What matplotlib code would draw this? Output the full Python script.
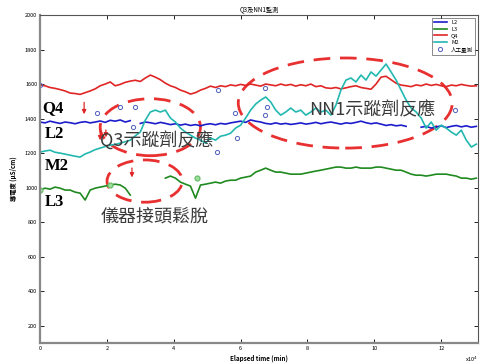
import numpy as np
import matplotlib
matplotlib.use("Agg")
import matplotlib.pyplot as plt
from matplotlib.patches import Ellipse

plt.rcParams['font.family'] = ['Noto Sans CJK TC', 'DejaVu Sans']

# ---- data (time in 10^4 min, conductivity) ----
n_pts = 88
time = np.linspace(0, 0.15 * (n_pts - 1), n_pts)

q4 = [1594, 1590, 1580,
      1575, 1568, 1560, 1548,
      1545, 1540, 1550, 1560,
      1572, 1590, 1600, 1612,
      1590, 1598, 1610, 1617,
      1622, 1615, 1635, 1652,
      1640, 1625, 1605, 1590,
      1580, 1565, 1555, 1542,
      1550, 1565, 1575, 1588,
      1580, 1590, 1585, 1595,
      1590, 1598, 1592, 1600,
      1594, 1588, 1600, 1595,
      1590, 1600, 1592, 1598,
      1588, 1596, 1590, 1600,
      1585, 1590, 1578, 1575,
      1580, 1572, 1578, 1585,
      1590, 1580, 1575, 1570,
      1600, 1640, 1645, 1625,
      1605, 1594, 1590, 1585,
      1595, 1590, 1600, 1592,
      1598, 1590, 1585, 1594,
      1590, 1598, 1592, 1588,
      1590]

l2 = [1380, 1375, 1385,
      1378, 1372, 1380, 1376,
      1370, 1378, 1382, 1375,
      1380, 1386, 1378, 1390,
      1385, 1392, 1380, 1388,
      np.nan, 1372, 1380, 1376,
      1370, 1378, 1372, 1365,
      1370, 1362, 1368, 1360,
      1365, 1358, 1366, 1370,
      1364, 1372, 1368, 1375,
      1380, 1385, 1378, 1392,
      1385, 1380, 1372, 1368,
      1375, 1368, 1372, 1366,
      1370, 1375, 1368, 1372,
      1378, 1370, 1376, 1380,
      1374, 1368, 1375, 1372,
      1378, 1385, 1376, 1370,
      1375, 1368, 1360, 1365,
      1358, 1362, 1355, np.nan,
      np.nan, 1350, 1355, 1345,
      1352, 1358, 1348, 1355,
      1360, 1352, 1358, 1350,
      1355]

m2 = [1206, 1212, 1217, 1205, 1200, 1194, 1188, 1182, 1177, 1195,
      1206, 1220, 1229, 1238, 1246, 1250, 1258, 1266, 1275, 1300,
      1322, 1391, 1438, 1449, 1438, 1449, 1403, 1380, 1345, 1322,
      1304, 1287, 1275, 1258, 1287, 1275, 1298, 1304, 1315, 1345,
      1362, 1403, 1449, 1484, 1507, 1525, 1496, 1449, 1420, 1438,
      1461, 1438, 1449, 1420, 1438, 1461, 1438, 1449, 1420, 1478,
      1565, 1623, 1635, 1612, 1652, 1623, 1670, 1646, 1681, 1716,
      1670, 1623, 1565, 1507, 1461, 1438, 1403, 1345, 1380, 1333,
      1362, 1345, 1322, 1304, 1333, 1275, 1235, 1252]

l3 = [986, 997, 991, 1003, 997, 986, 986, 974, 968, 928,
      986, 997, 1003, 1009, 1015, 1020, 1015, 997, 957, np.nan,
      np.nan, np.nan, np.nan, np.nan, np.nan, 1055, 1067, 1055, 1032, 1020,
      1009, 939, 1015, 1020, 1026, 1032, 1026, 1038, 1043, 1043,
      1055, 1061, 1067, 1090, 1101, 1113, 1101, 1090, 1090, 1084,
      1078, 1078, 1078, 1084, 1090, 1096, 1101, 1107, 1113, 1119,
      1119, 1113, 1113, 1119, 1113, 1113, 1113, 1119, 1119, 1113,
      1107, 1101, 1101, 1090, 1078, 1072, 1072, 1067, 1072, 1078,
      1078, 1078, 1072, 1067, 1055, 1055, 1049, 1055]

manual_t = [0.0, 1.71, 2.39, 2.84, 2.78, 5.30, 5.33, 5.89, 5.83, 6.79, 6.73, 6.73, 12.42]
manual_v = [1594, 1432, 1467, 1467, 1351, 1206, 1565, 1287, 1432, 1467, 1577, 1420, 1449]

l3_manual_t = [0.0, 2.1, 4.7]
l3_manual_v = [986, 1015, 1055]

series_names = ['L2', 'L3', 'Q4', 'M2']
manual_name = '人工量測'

# ---- figure ----
W, H = 481, 363
fig = plt.figure(figsize=(W / 100, H / 100), dpi=100)
ax = fig.add_axes([40 / W, 1 - 343 / H, 438 / W, 328 / H])

c_l2, c_l3, c_q4, c_m2 = '#1c1ccc', '#1f8a1f', '#e02525', '#22b8b0'
ax.plot(time, l2, color=c_l2, lw=1.2, label=series_names[0])
ax.plot(time, l3, color=c_l3, lw=1.2, label=series_names[1])
ax.plot(time, q4, color=c_q4, lw=1.2, label=series_names[2])
ax.plot(time, m2, color=c_m2, lw=1.2, label=series_names[3])
ax.plot(manual_t, manual_v, 'o', mfc='none', mec='#5060c0', ms=3, mew=0.7,
        label=manual_name, ls='none')
ax.plot(l3_manual_t, l3_manual_v, 'o', mfc='#9be09b', mec='#70c070', ms=3.5, ls='none')

ax.set_xlim(0, 13.1)
ax.set_ylim(100, 2000)
ax.set_xticks([0, 2, 4, 6, 8, 10, 12])
ax.set_yticks([200, 400, 600, 800, 1000, 1200, 1400, 1600, 1800, 2000])
ax.tick_params(direction='in', length=3, width=0.6, labelsize=4,
               top=True, right=True, pad=2)
for s in ax.spines.values():
    s.set_linewidth(0.8)
    s.set_color('#555555')
ax.spines['left'].set_linewidth(1.6)
ax.spines['left'].set_color('#888888')
ax.spines['bottom'].set_linewidth(1.6)
ax.spines['bottom'].set_color('#888888')

ax.set_title('Q3及NN1監測', fontsize=4.5, pad=3)
ax.set_xlabel('Elapsed time (min)', fontsize=4.5, fontweight='bold', labelpad=3)
ax.set_ylabel('導電度 (μS/cm)', fontsize=4.5, fontweight='bold', labelpad=6)
ax.text(1.0, -0.035, 'x10$^4$', transform=ax.transAxes, fontsize=4,
        ha='right', va='top')

leg = ax.legend(loc='upper right', fontsize=4, handlelength=2.2,
                borderpad=0.4, labelspacing=0.3, frameon=True, fancybox=False,
                edgecolor='#333333', bbox_to_anchor=(1.0, 1.0))
leg.get_frame().set_linewidth(0.5)

# ---- ellipses ----
ell_kw = dict(fill=False, ec='#e83030', lw=2.0, ls=(0, (6, 3.5)))
ax.add_patch(Ellipse((3.3, 1350), 3.0, 330, **ell_kw))
ax.add_patch(Ellipse((3.13, 1038), 2.25, 245, **ell_kw))
ax.add_patch(Ellipse((9.13, 1490), 6.4, 522, **ell_kw))

# ---- arrows ----
arr = dict(arrowstyle='-|>', color='#e02525', lw=0.9, mutation_scale=6)
ax.annotate('', xy=(1.32, 1409), xytext=(1.32, 1510), arrowprops=arr)
ax.annotate('', xy=(1.80, 1258), xytext=(1.80, 1350), arrowprops=arr)
ax.annotate('', xy=(1.97, 1275), xytext=(1.97, 1350), arrowprops=arr)
ax.annotate('', xy=(2.75, 1043), xytext=(2.75, 1130), arrowprops=arr)

# ---- labels ----
lab_kw = dict(fontsize=12, fontweight='bold', family='Liberation Serif', va='center')
ax.text(0.08, 1460, 'Q4', **lab_kw)
ax.text(0.15, 1312, 'L2', **lab_kw)
ax.text(0.15, 1125, 'M2', **lab_kw)
ax.text(0.15, 915, 'L3', **lab_kw)

cjk_kw = dict(fontsize=13, color='#3a3a3a', va='center')
ax.text(1.8, 1270, 'Q3示蹤劑反應', **cjk_kw)
ax.text(8.05, 1445, 'NN1示蹤劑反應', **cjk_kw)
ax.text(1.8, 835, '儀器接頭鬆脫', **cjk_kw)

fig.savefig('out.png', dpi=100)
